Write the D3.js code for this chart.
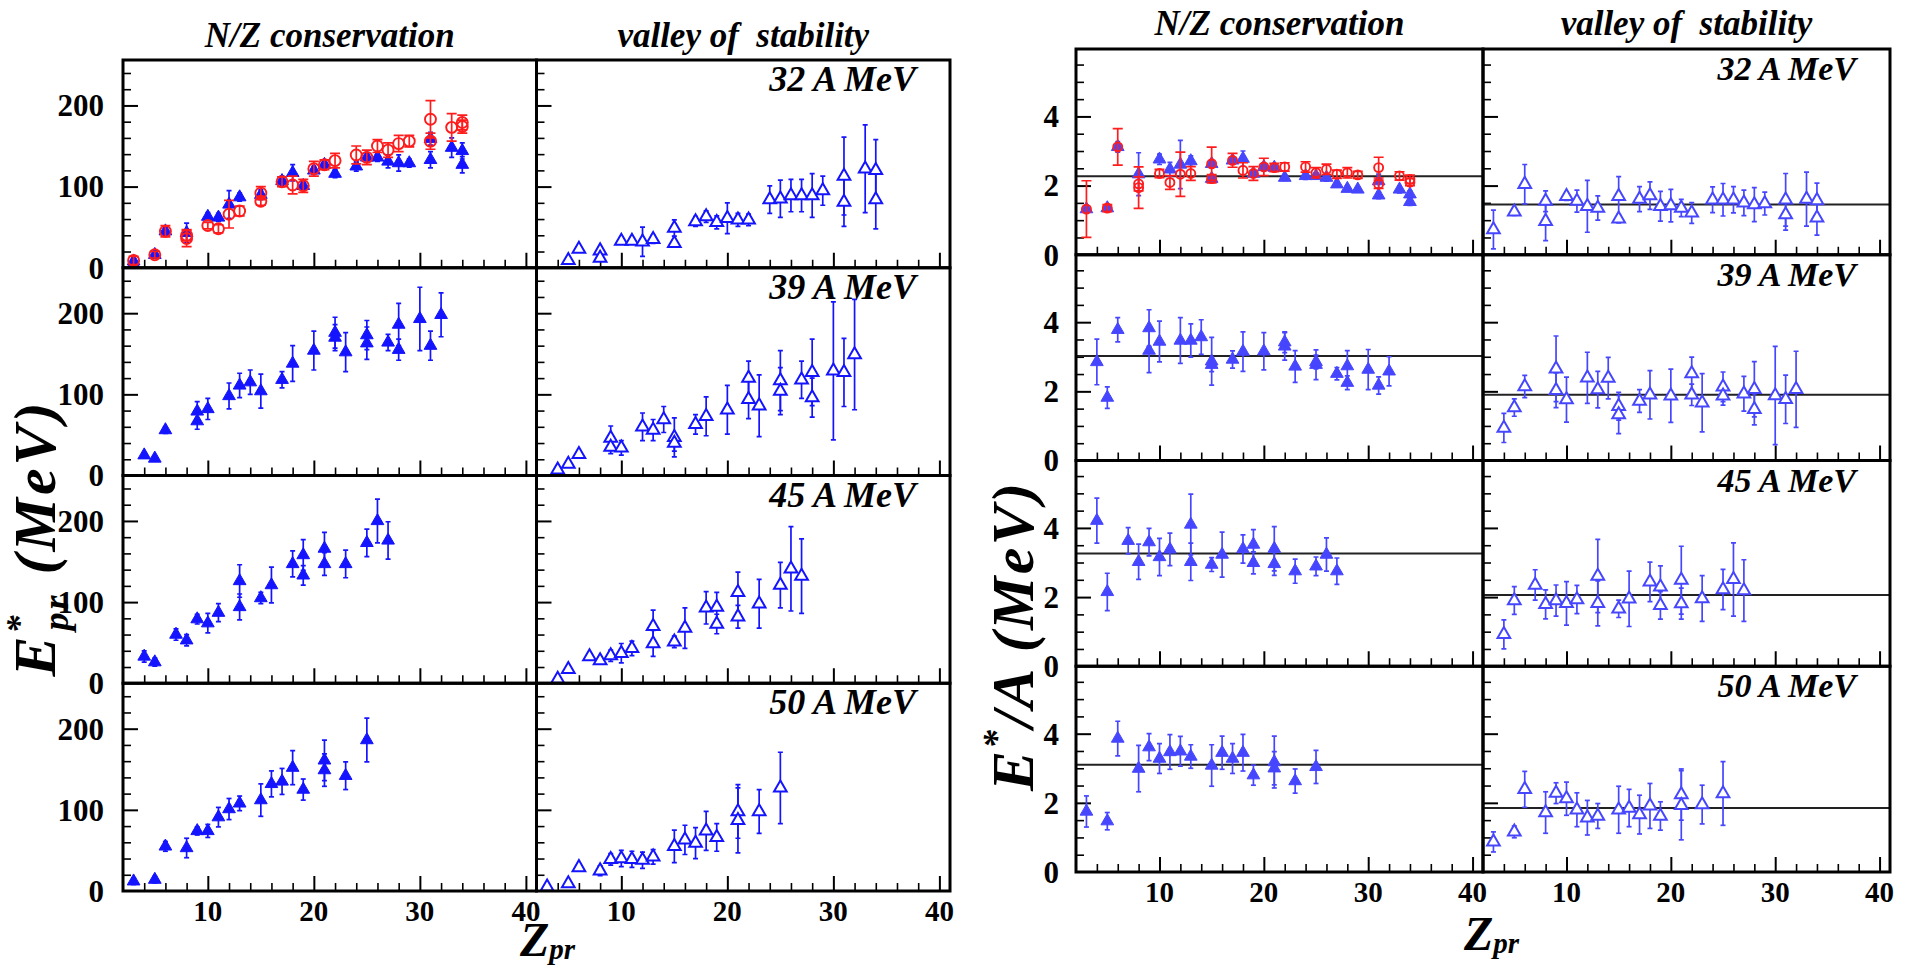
<!DOCTYPE html>
<html>
<head>
<meta charset="utf-8">
<script src="https://cdn.jsdelivr.net/npm/d3@7"></script>
<style>
  body { margin: 0; background: #fff; }
  svg { display: block; }
  svg text { font-family: "Liberation Serif", "Times New Roman", "DejaVu Serif", serif; font-weight: bold; }
</style>
</head>
<body>
<svg id="chart" width="1910" height="968" font-family="Liberation Serif, Times New Roman, DejaVu Serif, serif"></svg>
<script>
// ---- labels ---------------------------------------------------------------
const energies = ["32 A MeV", "39 A MeV", "45 A MeV", "50 A MeV"];
const columnTitles = ["N/Z conservation", "valley of  stability"];
const zTickLabels = [10, 20, 30, 40];
const eprTickLabels = [0, 100, 200];
const eaTickLabels = [0, 2, 4];

// ---- primary-fragment excitation energy E*_pr (MeV): [Z_pr, value, error] --
const eprNZ32blue = [[3,4,2],[3,8,3],[5,16,3],[6,45,5],[8,43,12],[10,63,5],[11,62,5],[12,78,17],[13,87,5],[15,90,6],[17,107,6],[18,117,10],[19,101,5],[20,120,5],[21,127,6],[22,116,5],[24,125,6],[25,136,6],[26,136,5],[27,131,8],[28,129,10],[29,129,5],[31,133,10],[31,159,8],[33,148,12],[34,144,10],[34,127,10]];
const eprNZ32red = [[3,9,5],[5,16,4],[6,45,7],[8,36,10],[8,40,7],[10,52,4],[11,48,5],[12,66,17],[13,70,6],[15,82,5],[15,92,8],[17,106,6],[18,102,11],[19,101,8],[20,122,9],[21,127,6],[22,132,9],[24,139,11],[25,136,9],[26,150,8],[27,145,9],[28,153,10],[29,156,7],[31,183,23],[31,156,10],[33,173,17],[34,179,9],[34,174,8]];
const eprVS32 = [[5,9,2],[6,23,3],[8,21,4],[8,12,3],[10,33,4],[11,33,4],[12,32,18],[13,35,5],[15,49,10],[15,30,4],[17,57,6],[18,63,7],[19,56,8],[20,61,19],[21,59,8],[22,59,7],[24,84,17],[25,85,23],[26,89,20],[27,89,20],[28,89,27],[29,95,18],[31,113,48],[31,81,30],[33,122,54],[34,120,38],[34,84,36]];
const eprNZ39 = [[4,25,3],[5,21,3],[6,56,4],[9,67,10],[9,79,12],[10,82,13],[12,98,16],[13,111,15],[14,115,15],[15,104,21],[17,118,10],[18,138,22],[20,154,24],[22,176,19],[22,170,16],[23,152,24],[25,163,20],[25,173,18],[27,164,10],[28,186,26],[28,155,13],[30,193,39],[31,160,18],[32,198,27]];
const eprVS39 = [[4,7,2],[5,14,3],[6,26,3],[9,46,15],[9,35,8],[10,34,9],[12,60,17],[13,56,13],[14,69,16],[15,47,24],[15,40,10],[17,63,12],[18,73,24],[20,81,30],[22,120,21],[22,94,24],[23,86,38],[25,117,37],[25,104,29],[27,118,23],[28,127,41],[28,96,24],[30,129,85],[31,127,42],[32,149,68]];
const eprNZ45 = [[4,33,7],[5,26,5],[7,60,7],[8,53,7],[9,79,6],[10,74,12],[11,87,11],[13,126,20],[13,94,16],[15,105,7],[16,121,22],[18,147,16],[19,158,19],[19,133,12],[21,166,20],[21,147,14],[23,147,17],[25,173,17],[26,200,27],[27,176,23]];
const eprVS45 = [[4,5,2],[5,17,3],[7,33,3],[8,28,3],[9,34,7],[10,37,12],[11,43,9],[13,70,20],[13,49,16],[15,51,7],[16,68,25],[18,93,20],[19,94,18],[19,73,12],[21,112,25],[21,82,14],[23,98,30],[25,121,28],[26,141,52],[27,132,46]];
const eprNZ50 = [[3,12,4],[5,14,4],[6,55,6],[8,53,12],[9,74,5],[10,74,8],[11,91,12],[12,101,13],[13,108,9],[15,112,20],[16,132,16],[17,135,16],[18,152,21],[19,125,13],[21,161,25],[21,149,20],[23,142,17],[25,186,27]];
const eprVS50 = [[3,5,2],[5,9,3],[6,29,3],[8,25,6],[9,39,7],[10,40,10],[11,39,10],[12,38,10],[13,42,9],[15,55,20],[16,63,18],[17,59,19],[18,74,24],[19,66,17],[21,98,33],[21,87,40],[23,98,27],[25,127,44]];

// ---- excitation energy per nucleon E*/A (MeV): [Z_pr, value, error] ------
const eaNZ32blue = [[3,1.32,0.1],[5,1.35,0.08],[6,3.12,0.15],[8,2.33,0.62],[10,2.76,0.15],[11,2.47,0.2],[12,2.61,0.7],[13,2.71,0.15],[15,2.63,0.1],[15,2.2,0.1],[17,2.73,0.1],[18,2.78,0.22],[19,2.35,0.1],[20,2.54,0.1],[21,2.52,0.08],[22,2.23,0.08],[24,2.28,0.1],[25,2.28,0.08],[26,2.23,0.1],[27,2.04,0.08],[28,1.91,0.08],[29,1.89,0.06],[31,1.72,0.1],[31,2.13,0.2],[33,1.89,0.1],[34,1.53,0.1],[34,1.75,0.1]];
const eaNZ32red = [[3,1.32,0.82],[5,1.35,0.1],[6,3.12,0.53],[8,1.94,0.6],[8,2.05,0.2],[10,2.35,0.12],[11,2.09,0.2],[12,2.33,0.64],[13,2.35,0.2],[15,2.63,0.48],[15,2.2,0.12],[17,2.73,0.2],[18,2.44,0.22],[19,2.35,0.2],[20,2.54,0.25],[21,2.52,0.12],[22,2.54,0.12],[24,2.54,0.15],[25,2.37,0.15],[26,2.47,0.15],[27,2.33,0.12],[28,2.37,0.15],[29,2.31,0.1],[31,2.52,0.3],[31,2.04,0.12],[33,2.28,0.12],[34,2.18,0.12],[34,2.1,0.1]];
const eaVS32 = [[3,0.73,0.56],[5,1.24,0.1],[6,2.04,0.57],[8,1.55,0.3],[8,0.97,0.56],[10,1.69,0.12],[11,1.55,0.32],[12,1.4,0.75],[13,1.35,0.35],[15,1.69,0.57],[15,1.04,0.12],[17,1.61,0.36],[18,1.71,0.4],[19,1.4,0.43],[20,1.42,0.47],[21,1.35,0.25],[22,1.21,0.3],[24,1.59,0.37],[25,1.59,0.47],[26,1.59,0.38],[27,1.5,0.37],[28,1.45,0.49],[29,1.48,0.33],[31,1.59,0.76],[31,1.16,0.45],[33,1.61,0.78],[34,1.57,0.5],[34,1.07,0.5]];
const eaNZ39 = [[4,2.85,0.66],[5,1.82,0.31],[6,3.78,0.35],[9,3.83,0.53],[9,3.18,0.64],[10,3.44,0.59],[12,3.47,0.66],[13,3.47,0.48],[14,3.57,0.5],[15,2.87,0.69],[15,2.77,0.2],[17,2.92,0.25],[18,3.15,0.57],[20,3.16,0.54],[22,3.3,0.4],[22,3.42,0.3],[23,2.72,0.46],[25,2.77,0.43],[25,2.85,0.2],[27,2.51,0.18],[28,2.73,0.45],[28,2.25,0.2],[30,2.63,0.58],[31,2.17,0.25],[32,2.58,0.42]];
const eaVS39 = [[4,0.94,0.42],[5,1.53,0.25],[6,2.14,0.32],[9,2.65,0.95],[9,2.03,0.5],[10,1.76,0.65],[12,2.39,0.74],[13,2.05,0.53],[14,2.38,0.6],[15,1.57,0.4],[15,1.33,0.55],[17,1.72,0.33],[18,1.9,0.7],[20,1.87,0.77],[22,2.51,0.48],[22,1.9,0.31],[23,1.67,0.84],[25,2.13,0.43],[25,1.87,0.27],[27,1.93,0.5],[28,2.06,0.8],[28,1.48,0.45],[30,1.88,1.42],[31,1.77,0.7],[32,2.06,1.1]];
const eaNZ45 = [[4,4.21,0.65],[5,2.15,0.54],[7,3.63,0.38],[8,3.02,0.51],[9,3.59,0.4],[10,3.16,0.54],[11,3.38,0.47],[13,4.1,0.88],[13,3.02,0.54],[15,2.94,0.2],[16,3.23,0.65],[18,3.39,0.41],[19,3.52,0.43],[19,2.99,0.32],[21,3.4,0.64],[21,2.96,0.33],[23,2.75,0.35],[25,2.89,0.27],[26,3.23,0.48],[27,2.75,0.38]];
const eaVS45 = [[4,0.92,0.42],[5,1.9,0.4],[7,2.35,0.44],[8,1.79,0.42],[9,1.9,0.45],[10,1.82,0.63],[11,1.93,0.41],[13,2.61,1.06],[13,1.82,0.65],[15,1.66,0.25],[16,1.95,0.8],[18,2.44,0.57],[19,2.3,0.6],[19,1.76,0.4],[21,2.49,0.98],[21,1.81,0.45],[23,1.96,0.66],[25,2.22,0.58],[26,2.51,1.06],[27,2.19,0.89]];
const eaNZ50 = [[3,1.75,0.45],[5,1.47,0.25],[6,3.86,0.5],[8,2.99,0.67],[9,3.61,0.39],[10,3.28,0.43],[11,3.47,0.5],[12,3.49,0.43],[13,3.34,0.34],[15,3.08,0.6],[16,3.45,0.48],[17,3.28,0.43],[18,3.45,0.53],[19,2.8,0.29],[21,3.18,0.75],[21,3.0,0.48],[23,2.63,0.35],[25,3.04,0.48]];
const eaVS50 = [[3,0.87,0.29],[5,1.16,0.17],[6,2.39,0.52],[8,1.72,0.6],[9,2.28,0.3],[10,2.12,0.48],[11,1.8,0.49],[12,1.57,0.5],[13,1.62,0.36],[15,1.8,0.68],[16,1.85,0.54],[17,1.66,0.56],[18,1.91,0.65],[19,1.62,0.41],[21,2.24,0.74],[21,1.93,1.0],[23,1.95,0.56],[25,2.27,0.92]];

// mean E*/A per row (horizontal reference lines)
const eaMeanNZ = [2.27, 3.02, 3.26, 3.10];
const eaMeanVS = [1.45, 1.90, 2.06, 1.85];

// ---- drawing --------------------------------------------------------------
const svg = d3.select("#chart");
const FONT = "Liberation Serif, Times New Roman, DejaVu Serif, serif";
const BLUE_L = "#1414ff", BLUE_R = "#4646ff", RED = "#ff1c1c";

const figures = [
  {
    id: "epr", x0: 123, colW: 413.5, top: 60, rowH: 207.75,
    yMax: 256, yMajor: 100, yMinor: 20, yLabels: eprTickLabels, blue: BLUE_L,
    rows: [
      { nz: [eprNZ32blue, eprNZ32red], vs: eprVS32 },
      { nz: [eprNZ39], vs: eprVS39 },
      { nz: [eprNZ45], vs: eprVS45 },
      { nz: [eprNZ50], vs: eprVS50 }
    ],
    titleY: 47, labelX: 104, labelSize: 31, energySize: 36
  },
  {
    id: "ea", x0: 1076, colW: 407, top: 49, rowH: 205.75,
    yMax: 5.95, yMajor: 2, yMinor: 0.5, yLabels: eaTickLabels, blue: BLUE_R,
    rows: [
      { nz: [eaNZ32blue, eaNZ32red], vs: eaVS32, mean: [eaMeanNZ[0], eaMeanVS[0]] },
      { nz: [eaNZ39], vs: eaVS39, mean: [eaMeanNZ[1], eaMeanVS[1]] },
      { nz: [eaNZ45], vs: eaVS45, mean: [eaMeanNZ[2], eaMeanVS[2]] },
      { nz: [eaNZ50], vs: eaVS50, mean: [eaMeanNZ[3], eaMeanVS[3]] }
    ],
    titleY: 35, labelX: 1059, labelSize: 31, energySize: 34
  }
];

const triangle = d3.symbol().type(d3.symbolTriangle).size(70);

function label(sel) {
  return sel.attr("font-family", FONT).attr("font-weight", "bold");
}

function drawPoints(g, x, y, data, style) {
  const pts = g.append("g");
  // error bars with end caps
  data.forEach(([z, v, e]) => {
    const cx = x(z);
    pts.append("line").attr("x1", cx).attr("x2", cx)
      .attr("y1", y(v - e)).attr("y2", y(v + e))
      .attr("stroke", style.color).attr("stroke-width", 1.7);
    [v - e, v + e].forEach(yy => {
      pts.append("line").attr("x1", cx - style.cap).attr("x2", cx + style.cap)
        .attr("y1", y(yy)).attr("y2", y(yy))
        .attr("stroke", style.color).attr("stroke-width", 1.7);
    });
  });
  // markers
  data.forEach(([z, v]) => {
    if (style.shape === "circle") {
      pts.append("circle").attr("cx", x(z)).attr("cy", y(v)).attr("r", style.r)
        .attr("fill", "none").attr("stroke", style.color).attr("stroke-width", 1.9);
    } else {
      pts.append("path").attr("d", triangle)
        .attr("transform", `translate(${x(z)},${y(v)})`)
        .attr("fill", style.filled ? style.color : "#fff")
        .attr("stroke", style.color).attr("stroke-width", style.filled ? 1 : 2);
    }
  });
}

figures.forEach(fig => {
  const g = svg.append("g").attr("class", fig.id);

  fig.rows.forEach((row, r) => {
    const top = fig.top + r * fig.rowH, bottom = top + fig.rowH;
    [0, 1].forEach(c => {
      const left = fig.x0 + c * fig.colW, right = left + fig.colW;
      const x = d3.scaleLinear().domain([2, 41]).range([left, right]);
      const y = d3.scaleLinear().domain([0, fig.yMax]).range([bottom, top]);
      const clipId = `clip-${fig.id}-${r}-${c}`;
      g.append("clipPath").attr("id", clipId)
        .append("rect").attr("x", left).attr("y", top)
        .attr("width", fig.colW).attr("height", fig.rowH);
      const panel = g.append("g");

      // x ticks (pointing up from the bottom edge)
      const minorZ = d3.range(4, 41, 2).filter(v => v % 10 !== 0);
      panel.append("g").attr("transform", `translate(0,${bottom})`)
        .call(d3.axisBottom(x).tickValues(zTickLabels).tickSizeInner(-15).tickSizeOuter(0).tickFormat(""))
        .call(a => a.select(".domain").remove())
        .call(a => a.selectAll("line").attr("stroke-width", 2));
      panel.append("g").attr("transform", `translate(0,${bottom})`)
        .call(d3.axisBottom(x).tickValues(minorZ).tickSizeInner(-8).tickSizeOuter(0).tickFormat(""))
        .call(a => a.select(".domain").remove())
        .call(a => a.selectAll("line").attr("stroke-width", 1.6));

      // y ticks (pointing right from the left edge)
      const majorY = d3.range(fig.yMajor, fig.yMax, fig.yMajor);
      const minorY = d3.range(fig.yMinor, fig.yMax, fig.yMinor)
        .filter(v => Math.abs(v / fig.yMajor - Math.round(v / fig.yMajor)) > 1e-6);
      panel.append("g").attr("transform", `translate(${left},0)`)
        .call(d3.axisLeft(y).tickValues(majorY).tickSizeInner(-15).tickSizeOuter(0).tickFormat(""))
        .call(a => a.select(".domain").remove())
        .call(a => a.selectAll("line").attr("stroke-width", 2));
      panel.append("g").attr("transform", `translate(${left},0)`)
        .call(d3.axisLeft(y).tickValues(minorY).tickSizeInner(-8).tickSizeOuter(0).tickFormat(""))
        .call(a => a.select(".domain").remove())
        .call(a => a.selectAll("line").attr("stroke-width", 1.6));

      // mean reference line
      if (row.mean) {
        panel.append("line").attr("x1", left).attr("x2", right)
          .attr("y1", y(row.mean[c])).attr("y2", y(row.mean[c]))
          .attr("stroke", "#222").attr("stroke-width", 2);
      }

      const data = panel.append("g").attr("clip-path", `url(#${clipId})`);
      if (c === 0) {
        drawPoints(data, x, y, row.nz[0], { shape: "tri", filled: true, color: fig.blue, cap: 2.5 });
        if (row.nz[1]) drawPoints(data, x, y, row.nz[1], { shape: "circle", color: RED, cap: 5, r: fig.id === "epr" ? 5.5 : 4.5 });
      } else {
        drawPoints(data, x, y, row.vs, { shape: "tri", filled: false, color: fig.blue, cap: 2.5 });
        label(g.append("text")).attr("x", right - 34).attr("y", top + 31)
          .attr("text-anchor", "end").attr("font-size", fig.energySize)
          .attr("font-style", "italic").text(energies[r]);
      }

      // frame
      panel.append("rect").attr("x", left).attr("y", top)
        .attr("width", fig.colW).attr("height", fig.rowH)
        .attr("fill", "none").attr("stroke", "#000").attr("stroke-width", 3);

      // y tick labels on the outer left column
      if (c === 0) {
        fig.yLabels.forEach(v => {
          label(g.append("text")).attr("x", fig.labelX).attr("y", y(v))
            .attr("dy", "0.35em").attr("text-anchor", "end")
            .attr("font-size", fig.labelSize).text(v);
        });
      }
      // x tick labels below the last row
      if (r === 3) {
        zTickLabels.forEach(v => {
          label(g.append("text")).attr("x", x(v)).attr("y", bottom + 30)
            .attr("text-anchor", "middle").attr("font-size", 29).text(v);
        });
      }
      // column titles
      if (r === 0) {
        label(g.append("text")).attr("x", (left + right) / 2).attr("y", fig.titleY)
          .attr("text-anchor", "middle").attr("font-size", 35)
          .attr("font-style", "italic").attr("xml:space", "preserve")
          .style("white-space", "pre").text(columnTitles[c]);
      }
    });
  });
});

// rotated y-axis titles
function yTitleEpr(x, y, size) {
  const t = label(svg.append("text")).attr("transform", `translate(${x},${y}) rotate(-90)`)
    .attr("text-anchor", "middle").attr("font-size", size).attr("font-style", "italic")
    .attr("letter-spacing", 3);
  t.append("tspan").text("E");
  t.append("tspan").attr("dy", -0.4 * size).attr("font-size", 0.6 * size).text("*");
  t.append("tspan").attr("dx", -0.3 * size).attr("dy", 0.62 * size).attr("font-size", 0.6 * size).text("pr");
  t.append("tspan").attr("dx", 0.3 * size).attr("dy", -0.22 * size).text("(MeV)");
}
function yTitleEa(x, y, size, span) {
  const t = label(svg.append("text")).attr("transform", `translate(${x},${y}) rotate(-90)`)
    .attr("text-anchor", "middle").attr("font-size", size).attr("font-style", "italic")
    .attr("textLength", span).attr("lengthAdjust", "spacing");
  t.append("tspan").text("E");
  t.append("tspan").attr("dy", -0.4 * size).attr("font-size", 0.62 * size).text("*");
  t.append("tspan").attr("dy", 0.4 * size).text("/A (MeV)");
}
yTitleEpr(55, 538, 60);
yTitleEa(1033, 637, 60, 308);

function zTitle(x, y) {
  const t = label(svg.append("text")).attr("x", x).attr("y", y)
    .attr("font-size", 48).attr("font-style", "italic");
  t.append("tspan").text("Z");
  t.append("tspan").attr("dy", 3).attr("font-size", 29).text("pr");
}
zTitle(520, 956);
zTitle(1464, 950);
</script>
</body>
</html>
